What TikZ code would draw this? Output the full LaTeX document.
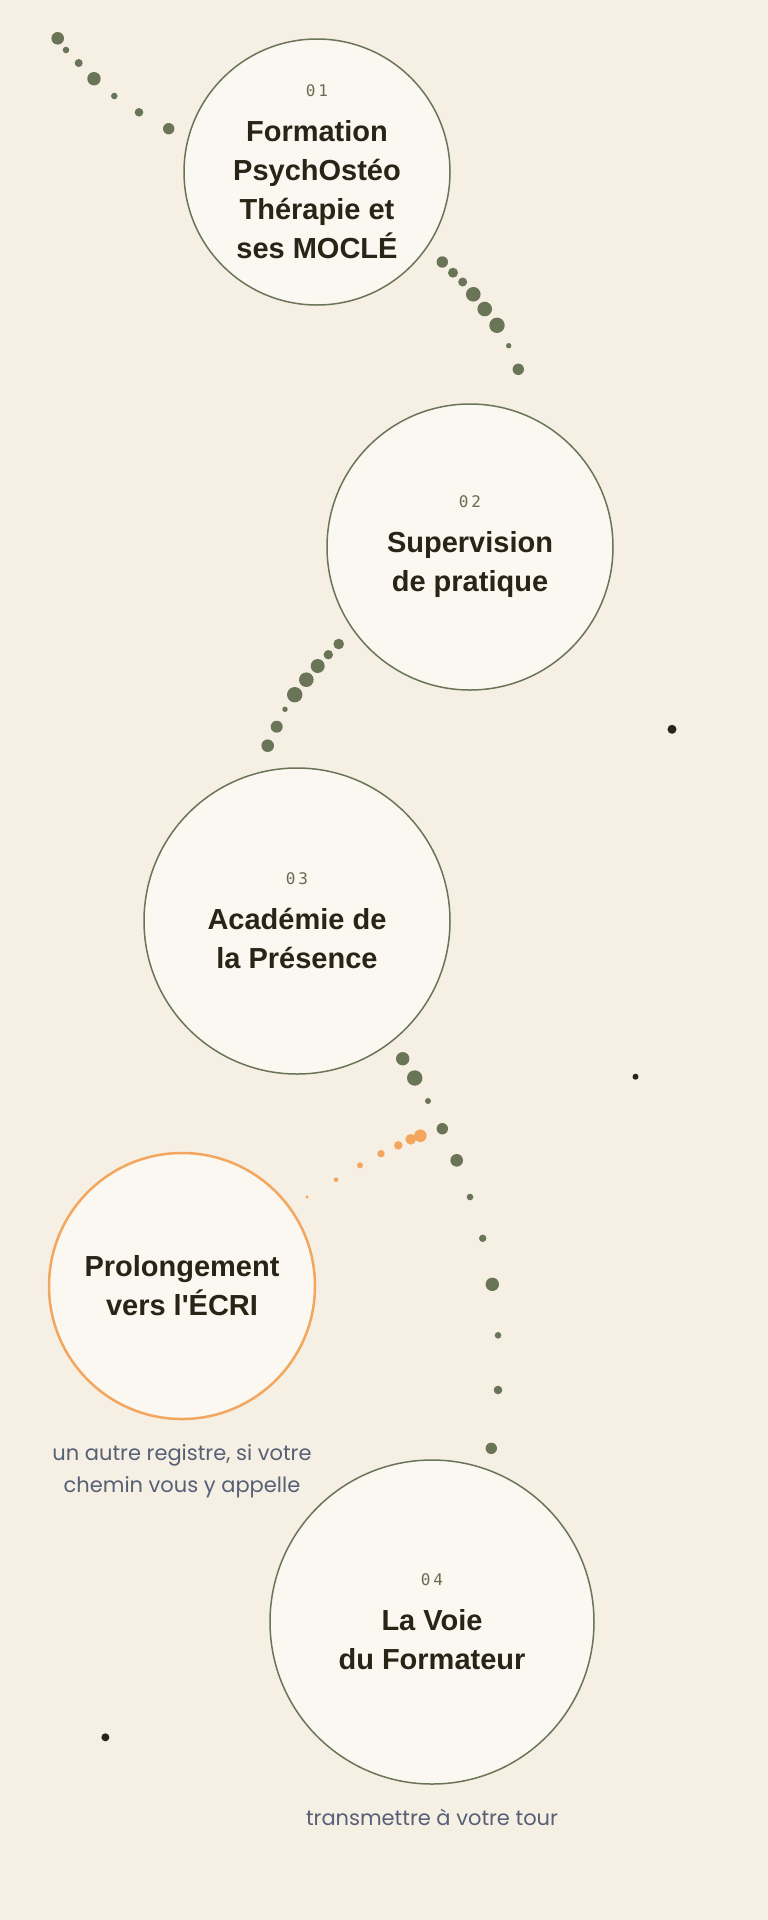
\documentclass[tikz,border=0pt]{standalone}
\usepackage{fontspec}
\setmainfont{Liberation Sans}
\newfontfamily\titlefont{Liberation Sans}
\newfontfamily\numfont{DejaVu Sans Mono}
\newfontfamily\notefont{Poppins}
\usepackage{xcolor}
\usetikzlibrary{positioning}
\definecolor{paper}{HTML}{F6EFE4}
\definecolor{disc}{HTML}{FBF7F1}
\definecolor{sage}{HTML}{6A7558}
\definecolor{apricot}{HTML}{F2A65E}
\definecolor{ink}{HTML}{2A2416}
\definecolor{slate}{HTML}{566076}
\newcommand{\stagenum}[1]{{\numfont\mdseries\fontsize{16}{18}\selectfont\color{sage!90!ink}#1}}

\tikzset{
  stage/.style={circle, draw=sage, line width=1.5pt, fill=disc, inner sep=0pt,
    align=center, text=ink, font=\titlefont\bfseries\fontsize{29}{39}\selectfont},
  sidestage/.style={stage, draw=apricot, line width=2.5pt},
  note/.style={align=center, inner sep=0pt, text=slate, font=\notefont\fontsize{21}{32}\selectfont},
  dot/.style={fill=sage},
  spark/.style={fill=apricot},
  speck/.style={fill=ink}
}

\begin{document}
\begin{tikzpicture}[x=1pt,y=-1pt]
    % BACKGROUND
    \fill[paper] (0,0) rectangle (768,1920);
    \useasboundingbox (0,0) rectangle (768,1920);

    % STAGES
    \node[stage, minimum size=266pt] (s1) at (317,172) {\stagenum{0\kern3pt1}\\[6pt]Formation\\PsychOstéo\\Thérapie et\\ses MOCLÉ};
    \node[stage, minimum size=286pt] (s2) at (470,547) {\stagenum{0\kern3pt2}\\[6pt]Supervision\\de pratique};
    \node[stage, minimum size=306pt] (s3) at (297,921) {\stagenum{0\kern3pt3}\\[6pt]Académie de\\la Présence};
    \node[sidestage, minimum size=266pt] (ecri) at (182,1286) {Prolongement\\vers l'ÉCRI};
    \node[stage, minimum size=324pt] (s4) at (432,1622) {\stagenum{0\kern3pt4}\\[6pt]La Voie\\du Formateur};

    % NOTES
    \node[note, below=24pt of ecri] (ecrinote) {un autre registre, si votre\\chemin vous y appelle};
    \node[note, below=24pt of s4] (s4note) {transmettre à votre tour};

    % DOTTED TRAIL
    \foreach \x/\y/\r in {57.7/38.3/6.3, 66/50/3.3, 78.7/63/4, 94/78.7/6.7, 114.3/96/3.3, 139/112.3/4.3, 168.7/128.7/5.7,
        442.3/262/5.7, 453/272.7/5, 462.7/282/4.5, 473.3/294.3/7.3, 484.7/309/7.3, 497/325.3/7.7, 508.7/345.7/2.7, 518.3/369.3/5.7,
        338.7/644/5.3, 328.3/654.7/4.7, 317.7/666/7, 306.3/679.7/7.3, 294.7/694.7/7.7, 285/709.3/2.7, 276.7/726.7/6, 267.7/745.7/6.3,
        402.7/1058.7/6.7, 414.7/1078/7.7, 428/1101/3, 442.3/1128.7/5.7, 456.7/1160.3/6.3, 470/1197/3.3,
        482.7/1238.3/3.7, 492.3/1284.3/6.7, 498/1335.3/3.3, 498/1390/4.3, 491.3/1448.3/5.7}
        \fill[dot] (\x,\y) circle (\r);

    % SIDE BRANCH
    \foreach \x/\y/\r in {420.3/1135.7/6.3, 410.7/1139.3/5.3, 398.3/1145.3/4.3, 381/1153.7/3.7, 360/1165.3/3, 336/1179.7/2.3, 307/1197/1.7}
        \fill[spark] (\x,\y) circle (\r);

    % STRAY SPECKS
    \foreach \x/\y/\r in {672/729.3/4.5, 635.5/1076.7/3, 105.4/1737.3/4}
        \fill[speck] (\x,\y) circle (\r);
\end{tikzpicture}
\end{document}
